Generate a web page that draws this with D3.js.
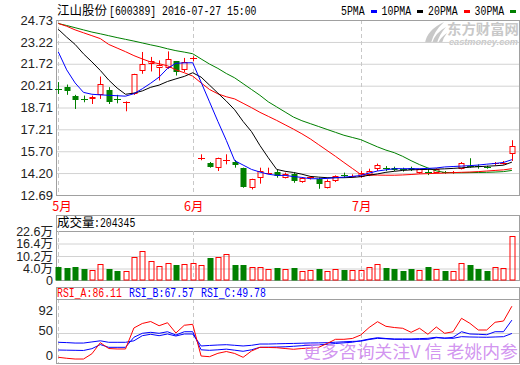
<!DOCTYPE html>
<html>
<head>
<meta charset="utf-8">
<script src="https://cdn.jsdelivr.net/npm/d3@7/dist/d3.min.js"></script>
<style>
  body { margin: 0; background: #fff; }
  svg { display: block; }
</style>
</head>
<body>
<svg id="chart" width="520" height="365"></svg>
<script>
const stockName = '江山股份';
const stockCode = '600389';

const dates = [
  '2016-05-10','2016-05-11','2016-05-12','2016-05-13','2016-05-16','2016-05-17','2016-05-18','2016-05-19',
  '2016-05-20','2016-05-23','2016-05-24','2016-05-25','2016-05-26','2016-05-27','2016-05-30','2016-05-31',
  '2016-06-01','2016-06-02','2016-06-03','2016-06-06','2016-06-07','2016-06-08','2016-06-13','2016-06-14',
  '2016-06-15','2016-06-16','2016-06-17','2016-06-20','2016-06-21','2016-06-22','2016-06-23','2016-06-24',
  '2016-06-27','2016-06-28','2016-06-29','2016-06-30','2016-07-01','2016-07-04','2016-07-05','2016-07-06',
  '2016-07-07','2016-07-08','2016-07-11','2016-07-12','2016-07-13','2016-07-14','2016-07-15','2016-07-18',
  '2016-07-19','2016-07-20','2016-07-21','2016-07-22','2016-07-25','2016-07-26','2016-07-27'
];

const open = [19.97,20.11,19.49,19.32,19.28,19.60,19.92,19.27,19.09,19.64, 21.19,21.72,21.44,21.44,21.91,21.26,22.02,15.15,14.87,14.57,
  15.08,14.99,14.57,13.14,13.88,14.14,14.30,13.88,14.11,13.58, 13.83,13.81,13.19,13.64,14.06,13.92,13.95,14.06,14.45,14.56,
  14.57,14.45,14.57,14.20,14.30,14.23,14.30,14.20,14.50,14.70, 14.66,14.62,14.82,14.85,15.49];
const high = [20.46,20.29,19.58,19.53,19.53,20.84,20.11,19.58,19.13,21.03, 22.53,22.19,21.95,22.57,21.91,22.12,22.23,15.49,14.96,15.26,
  15.49,15.10,14.57,13.81,14.57,14.57,14.41,14.23,14.23,13.88, 13.99,13.88,13.76,14.04,14.23,14.11,14.34,14.50,14.85,14.68,
  14.64,14.57,14.64,14.50,14.45,14.52,14.34,14.34,14.96,15.22, 14.80,14.70,14.96,15.03,16.46];
const low = [19.64,19.58,18.61,19.07,18.95,19.30,18.95,19.00,18.45,19.58, 21.03,21.19,20.57,21.37,20.91,21.15,21.88,15.08,14.57,14.34,
  14.80,14.57,13.19,13.07,13.47,14.11,13.88,13.83,13.53,13.53, 13.76,13.12,13.14,13.58,13.88,13.88,13.88,13.99,14.34,14.34,
  14.34,14.30,14.34,14.15,14.06,14.18,14.15,14.15,14.45,14.57, 14.50,14.50,14.73,14.78,15.03];
const close = [19.92,19.87,19.25,19.28,19.46,20.34,19.11,19.23,19.12,21.03, 21.72,21.91,21.60,22.07,21.15,21.84,22.14,15.24,14.64,15.22,
  15.12,14.75,13.26,13.81,14.34,14.23,13.99,14.16,13.64,13.83, 13.95,13.47,13.64,13.99,13.99,13.97,14.23,14.34,14.75,14.49,
  14.41,14.41,14.41,14.45,14.25,14.45,14.20,14.30,14.92,14.66, 14.62,14.58,14.88,14.90,16.03];

// volume in 万 (10k lots)
const volume = [6.0,5.65,6.0,5.2,4.55,7.4,5.2,4.25,4.1,10.5, 13.3,8.6,6.3,7.7,6.9,7.2,7.7,6.7,10.2,10.5,
  11.9,6.9,6.9,6.0,6.0,5.0,5.5,5.0,5.5,4.1, 4.55,5.0,4.25,5.0,4.55,4.55,4.55,6.0,7.2,5.5,
  5.2,4.1,5.0,4.55,6.0,5.0,4.1,4.1,7.7,6.9, 5.2,4.1,6.0,5.5,20.4345];

const ma5 = [22.53,21.30,20.40,19.75,19.62,19.58,19.55,19.52,19.49,19.66, 20.00,20.38,20.80,21.40,21.75,21.78,21.79,20.45,19.10,17.75,
  16.45,15.05,14.75,14.45,14.27,14.12,14.04,14.04,13.96,13.90, 13.81,13.81,13.83,13.88,13.92,13.97,14.03,14.20,14.34,14.42,
  14.50,14.50,14.50,14.50,14.52,14.55,14.62,14.65,14.68,14.71, 14.75,14.81,14.86,14.93,15.12];
const ma10 = [24.09,23.55,23.05,22.40,21.85,21.26,20.60,20.05,19.62,19.70, 19.85,20.10,20.25,20.50,20.68,20.85,21.10,20.80,20.25,19.70,
  19.15,18.55,17.75,17.05,16.10,15.25,14.45,14.32,14.24,14.12, 13.97,13.92,13.88,13.88,13.88,13.90,13.95,14.05,14.14,14.25,
  14.32,14.38,14.42,14.44,14.45,14.47,14.49,14.52,14.56,14.60, 14.64,14.67,14.70,14.74,14.95];
const ma20 = [24.49,24.30,24.05,23.85,23.65,23.45,23.05,22.80,22.55,22.28, 22.05,21.84,21.72,21.58,21.30,21.10,20.87,20.40,19.95,19.65,
  19.45,19.30,19.00,18.70,18.38,18.10,17.82,17.52,17.22,16.90, 16.55,16.15,15.75,15.35,14.93,14.52,14.11,14.05,14.06,14.05,
  14.05,14.07,14.10,14.14,14.16,14.18,14.20,14.23,14.25,14.27, 14.30,14.34,14.38,14.42,14.50];
const ma30 = [24.49,24.35,24.20,24.05,23.90,23.78,23.65,23.52,23.40,23.28, 23.15,23.02,22.90,22.75,22.62,22.52,22.41,22.05,21.70,21.40,
  21.05,20.75,20.35,19.95,19.55,19.10,18.75,18.40,18.05,17.80, 17.60,17.40,17.20,17.00,16.80,16.65,16.50,16.25,16.00,15.78,
  15.60,15.35,15.05,14.78,14.55,14.35,14.24,14.22,14.22,14.23, 14.24,14.25,14.27,14.30,14.38];

const rsiA = [18.0,16.7,15.7,15.7,22.7,37.5,29.7,29.1,29.1,57.1, 63.1,65.7,60.1,64.1,50.4,60.7,62.0,19.7,18.8,23.3,
  25.7,23.1,18.0,26.4,31.3,31.1,30.8,29.7,28.7,29.7, 30.4,31.3,36.4,42.0,42.0,43.1,47.7,57.7,65.5,59.3,
  57.7,56.7,51.3,56.7,48.7,58.4,50.0,52.1,70.0,63.3, 54.4,54.4,64.7,66.4,86.11];
const rsiB = [27.7,27.5,27.3,27.1,29.5,35.0,31.3,31.3,31.3,44.7, 50.0,51.3,50.0,52.1,47.7,52.1,52.1,28.0,27.3,28.0,
  28.9,27.5,26.0,28.0,31.3,31.5,31.7,32.0,32.7,33.5, 34.1,34.7,35.3,36.4,37.3,38.1,40.1,42.4,44.1,43.1,
  42.4,42.4,42.4,42.9,43.3,44.7,43.3,44.7,52.1,49.1, 48.7,48.1,52.1,52.1,67.57];
const rsiC = [38.0,37.6,37.0,37.0,38.5,40.0,38.0,38.0,38.0,40.0, 46.8,48.7,46.8,49.1,46.4,49.1,49.1,33.1,33.8,34.4,
  34.8,34.0,33.1,34.0,35.7,35.7,36.0,36.3,36.5,36.8, 37.1,37.2,37.5,38.1,38.7,39.2,39.5,41.7,43.3,42.7,
  42.0,42.0,42.0,42.0,42.0,44.1,43.7,43.3,45.5,45.1, 44.9,44.7,45.1,45.5,49.78];

const priceTicks = [24.73, 23.22, 21.72, 20.21, 18.71, 17.21, 15.70, 14.20, 12.69];
const volTicks = [22.6, 16.4, 10.2, 4.0, 0];
const rsiTicks = [92, 50, 0];
const maNames = ['5PMA', '10PMA', '20PMA', '30PMA'];
const watermark = '更多咨询关注V 信 老姚内参';

const RED = '#ff0000', GREEN = '#008000', BLUE = '#0000ff';
const GRID = '#d2d2d2', FRAME = '#a0a0a0', DASH = '#c8c8c8';
const MONO = "'Liberation Mono', 'DejaVu Sans Mono', monospace";
const CJK = "'Noto Sans CJK SC', sans-serif";
const SANS = "'Liberation Sans', 'Noto Sans CJK SC', sans-serif";
const L = 56, R = 519;

const svg = d3.select('#chart');

const x = d3.scalePoint().domain(dates).range([58.3, 511.9]);
const yPrice = d3.scaleLinear().domain([12.69, 24.73]).range([195, 20]);
const yVol = d3.scaleLinear().domain([0, 22.6]).range([280, 231]);
// the software spaces the volume labels unevenly: own scale for the axis only
const yVolAxis = d3.scaleLinear().domain([0, 4.0, 22.6]).range([280, 268.5, 231]);
const yRsi = d3.scaleLinear().domain([0, 100]).range([370.8, 295.8]);
const yRsiAxis = d3.scaleLinear().domain([0, 92]).range([355.5, 310]);

const monoText = (g, tx, ty, str, color) =>
  g.append('text')
    .attr('x', tx).attr('y', ty)
    .attr('font-family', MONO).attr('font-size', 12)
    .attr('textLength', str.length * 5.9).attr('lengthAdjust', 'spacingAndGlyphs')
    .attr('fill', color)
    .text(str);

const styleAxis = (g, lineColor, size) => {
  g.select('.domain').remove();
  g.selectAll('.tick line').attr('stroke', lineColor);
  g.selectAll('.tick text')
    .attr('font-size', size)
    .attr('font-family', SANS)
    .attr('fill', '#222');
};

// ---- header ----
svg.append('text')
  .attr('x', 57).attr('y', 15)
  .attr('font-family', CJK).attr('font-size', 12.5)
  .text(stockName);
monoText(svg, 109, 15, '[' + stockCode + '] ' + dates[dates.length - 1] + ' 15:00', '#000');

const maColors = [BLUE, '#000', RED, GREEN];
let lx = 341;
maNames.forEach((name, i) => {
  monoText(svg, lx, 15, name, '#000');
  lx += name.length * 5.9 + 6;
  svg.append('rect').attr('x', Math.round(lx)).attr('y', 10).attr('width', 6).attr('height', 3).attr('fill', maColors[i]);
  lx += 11;
});

// eastmoney logo watermark
const logo = svg.append('g').attr('fill', '#c8c8c8');
logo.append('path').attr('d', 'M425,43 Q427,30 444,22 Q434,31 431,43 Z');
logo.append('path').attr('d', 'M432,43 Q435,33 446,27 Q439,35 437,43 Z');
logo.append('path').attr('d', 'M438,43 Q441,37 447,33 Q443,38 442,43 Z');
logo.append('text')
  .attr('x', 447).attr('y', 34)
  .attr('font-family', CJK).attr('font-size', 13.5).attr('font-weight', 'bold')
  .attr('textLength', 72).attr('lengthAdjust', 'spacingAndGlyphs')
  .text('东方财富网');
logo.append('text')
  .attr('x', 449).attr('y', 45)
  .attr('font-family', SANS).attr('font-size', 8.5).attr('font-weight', 'bold').attr('font-style', 'italic')
  .attr('textLength', 69).attr('lengthAdjust', 'spacingAndGlyphs')
  .text('eastmoney.com');

// ---- price panel ----
const gPrice = svg.append('g')
  .attr('transform', `translate(${L},0)`)
  .call(d3.axisLeft(yPrice).tickValues(priceTicks).tickFormat(d3.format('.2f')).tickSize(-(R - L)).tickPadding(3));
styleAxis(gPrice, GRID, 13);

// ---- volume panel ----
const gVol = svg.append('g')
  .attr('transform', `translate(${L},0)`)
  .call(d3.axisLeft(yVolAxis).tickValues(volTicks)
    .tickFormat(d => (d === 0 ? '0' : d.toFixed(1) + '万'))
    .tickSize(-(R - L)).tickPadding(3));
styleAxis(gVol, GRID, 12.5);
gVol.selectAll('.tick line').filter(d => d === volTicks[0]).attr('stroke', FRAME);

// ---- rsi panel ----
const gRsi = svg.append('g')
  .attr('transform', `translate(${L},0)`)
  .call(d3.axisLeft(yRsiAxis).tickValues(rsiTicks).tickSize(0).tickPadding(3));
styleAxis(gRsi, 'none', 13);
svg.append('line')
  .attr('x1', L).attr('x2', R)
  .attr('y1', Math.round(yRsi(50)) + 0.5).attr('y2', Math.round(yRsi(50)) + 0.5)
  .attr('stroke', GRID);

// month separators
const monthStarts = dates.filter((d, i) => i === 0 || d.slice(5, 7) !== dates[i - 1].slice(5, 7));
const panels = [[20, 195], [231, 280], [299, 363]];
panels.forEach(([y0, y1]) => {
  svg.append('g').selectAll('line')
    .data(monthStarts)
    .join('line')
    .attr('x1', d => Math.round(x(d)) + 0.5)
    .attr('x2', d => Math.round(x(d)) + 0.5)
    .attr('y1', y0).attr('y2', y1)
    .attr('stroke', DASH)
    .attr('stroke-dasharray', '4,3');
});

svg.append('g').selectAll('text')
  .data(monthStarts)
  .join('text')
  .attr('x', d => Math.max(x(d) + 1, 62))
  .attr('y', 210.5)
  .attr('text-anchor', 'middle')
  .attr('font-family', CJK).attr('font-size', 12.5)
  .attr('fill', RED)
  .text(d => +d.slice(5, 7) + '月');

// frames
const frame = svg.append('g').attr('fill', 'none').attr('stroke', FRAME);
frame.append('rect').attr('x', L + 0.5).attr('y', 20.5).attr('width', R - L).attr('height', 175);
frame.append('rect').attr('x', L + 0.5).attr('y', 215.5).attr('width', R - L).attr('height', 65);
frame.append('rect').attr('x', L + 0.5).attr('y', 287.5).attr('width', R - L).attr('height', 76);
frame.append('line').attr('x1', L).attr('x2', R).attr('y1', 299.5).attr('y2', 299.5);

// ---- candles ----
const bars = dates.map((d, i) => ({ d, o: open[i], h: high[i], l: low[i], c: close[i], v: volume[i] }));
const candle = svg.append('g').selectAll('g')
  .data(bars)
  .join('g')
  .attr('stroke', b => (b.c >= b.o ? RED : GREEN));

candle.each(function (b) {
  const g = d3.select(this);
  const cx = Math.round(x(b.d)) + 0.5;
  const top = Math.round(yPrice(Math.max(b.o, b.c)));
  const bot = Math.max(Math.round(yPrice(Math.min(b.o, b.c))), top + 1);
  g.append('line').attr('x1', cx).attr('x2', cx).attr('y1', yPrice(b.h)).attr('y2', top);
  g.append('line').attr('x1', cx).attr('x2', cx).attr('y1', bot).attr('y2', yPrice(b.l));
  if (bot - top <= 1) {
    g.append('line').attr('x1', cx - 3.5).attr('x2', cx + 3.5).attr('y1', top + 0.5).attr('y2', top + 0.5);
  } else {
    g.append('rect')
      .attr('x', cx - 2.5).attr('y', top + 0.5)
      .attr('width', 5).attr('height', bot - top - 1)
      .attr('fill', b.c >= b.o ? 'none' : GREEN);
  }
});

// ---- moving averages ----
const clipMain = svg.append('clipPath').attr('id', 'clip-main');
clipMain.append('rect').attr('x', L).attr('y', 20).attr('width', R - L).attr('height', 175);

const maLine = d3.line().x((v, i) => x(dates[i])).y(v => yPrice(v));
svg.append('g').attr('clip-path', 'url(#clip-main)')
  .selectAll('path')
  .data([ma30, ma20, ma10, ma5])
  .join('path')
  .attr('d', maLine)
  .attr('fill', 'none')
  .attr('stroke', (d, i) => [GREEN, RED, '#000', BLUE][i])
  .attr('stroke-width', 1);

// ---- volume bars ----
svg.append('text')
  .attr('x', 57).attr('y', 227)
  .attr('font-family', CJK).attr('font-size', 12.5)
  .text('成交量');
monoText(svg, 94, 227, ':' + Math.round(volume[volume.length - 1] * 10000), '#000');

svg.append('g').selectAll('rect')
  .data(bars)
  .join('rect')
  .attr('x', b => Math.round(x(b.d)) - 2)
  .attr('y', b => Math.round(yVol(b.v)) + 0.5)
  .attr('width', 5)
  .attr('height', b => 280 - Math.round(yVol(b.v)) - 0.5)
  .attr('fill', b => (b.c >= b.o ? 'none' : GREEN))
  .attr('stroke', b => (b.c >= b.o ? RED : GREEN));

// ---- rsi ----
const rsiNames = ['RSI_A', 'RSI_B', 'RSI_C'];
const rsiSeries = [rsiA, rsiB, rsiC];
const rsiColors = [RED, BLUE, BLUE];
rsiNames.forEach((name, i) => {
  const s = rsiSeries[i];
  monoText(svg, 57 + i * 72, 297, name + ':' + s[s.length - 1].toFixed(2), rsiColors[i]);
});

const clipRsi = svg.append('clipPath').attr('id', 'clip-rsi');
clipRsi.append('rect').attr('x', L).attr('y', 300).attr('width', R - L).attr('height', 63);
const rsiLine = d3.line().x((v, i) => x(dates[i])).y(v => yRsi(v));
svg.append('g').attr('clip-path', 'url(#clip-rsi)')
  .selectAll('path')
  .data([rsiC, rsiB, rsiA])
  .join('path')
  .attr('d', rsiLine)
  .attr('fill', 'none')
  .attr('stroke', (d, i) => [BLUE, BLUE, RED][i]);

// bottom watermark
svg.append('text')
  .attr('x', 303).attr('y', 358)
  .attr('font-family', CJK).attr('font-size', 17)
  .attr('fill', '#cc88ee').attr('fill-opacity', 0.9)
  .attr('textLength', 215).attr('lengthAdjust', 'spacingAndGlyphs')
  .text(watermark);
</script>
</body>
</html>
